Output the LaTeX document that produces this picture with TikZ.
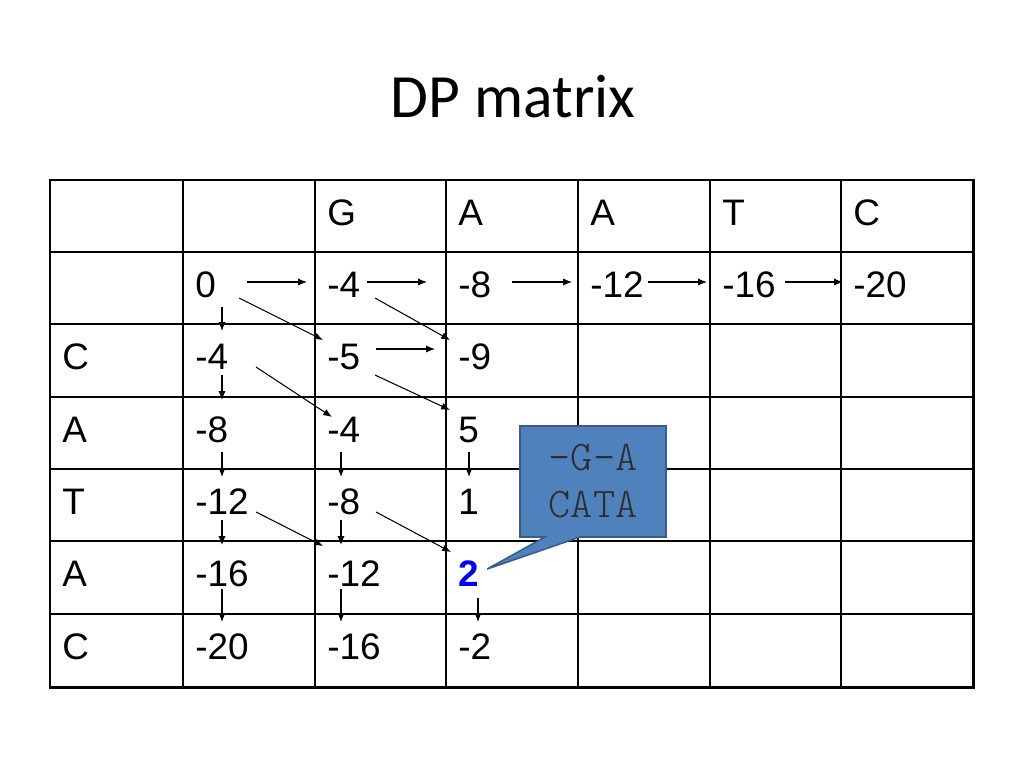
\documentclass[tikz,border=0pt]{standalone}
\usepackage{fontspec}
\setmainfont{Liberation Sans}
\newfontfamily\titlefont{Carlito}
\newfontfamily\notefont{lmmonolt10-regular.otf}
\usetikzlibrary{arrows.meta}
\definecolor{noteblue}{RGB}{79,129,189}
\definecolor{noteedge}{RGB}{56,93,138}
\definecolor{notetext}{RGB}{45,45,45}
\tikzset{cell/.style={anchor=west,inner sep=0pt,font=\fontsize{21}{25}\selectfont}}
\tikzset{link/.style={-{Latex[length=5pt,width=4pt]},line width=0.6pt}}
\tikzset{rule/.style={line width=0.85pt}}

\begin{document}
\begin{tikzpicture}[x=0.02cm,y=-0.02cm]
    \useasboundingbox (0,0) rectangle (1024,768);
    \node[font=\titlefont\fontsize{35}{42}\selectfont] (title) at (513,97) {DP matrix};
    % table
    \foreach \x in {183,315,446,578,710,841} \draw[rule] (\x,180) -- (\x,687);
    \foreach \y in {252,324,397,469,541,614} \draw[rule] (50,\y) -- (973,\y);
    \draw[line width=1.7pt] (50,180) rectangle (973,687);
    \foreach \t/\x/\n in {G/327/r0c2,A/458/r0c3,A/590/r0c4,T/722/r0c5,C/853/r0c6}
      \node[cell] (\n) at (\x,213) {\t};
    \foreach \t/\y/\n in {C/357/r2c0,A/430/r3c0,T/502/r4c0,A/574/r5c0,C/647/r6c0}
      \node[cell] (\n) at (62,\y) {\t};
    \node[cell] (r1c1) at (195,285) {0};
    \node[cell] (r1c2) at (327,285) {-4};
    \node[cell] (r1c3) at (458,285) {-8};
    \node[cell] (r1c4) at (590,285) {-12};
    \node[cell] (r1c5) at (722,285) {-16};
    \node[cell] (r1c6) at (853,285) {-20};
    \node[cell] (r2c1) at (195,357) {-4};
    \node[cell] (r2c2) at (327,357) {-5};
    \node[cell] (r2c3) at (458,357) {-9};
    \node[cell] (r3c1) at (195,430) {-8};
    \node[cell] (r3c2) at (327,430) {-4};
    \node[cell] (r3c3) at (458,430) {5};
    \node[cell] (r4c1) at (195,502) {-12};
    \node[cell] (r4c2) at (327,502) {-8};
    \node[cell] (r4c3) at (458,502) {1};
    \node[cell] (r5c1) at (195,574) {-16};
    \node[cell] (r5c2) at (327,574) {-12};
    \node[cell,text=blue,font=\fontsize{21}{25}\selectfont\bfseries] (r5c3) at (458,574) {2};
    \node[cell] (r6c1) at (195,647) {-20};
    \node[cell] (r6c2) at (327,647) {-16};
    \node[cell] (r6c3) at (458,647) {-2};
    % first row
    \draw[link] ([shift={(52,-3)}]r1c1.west) -- ([shift={(-20,-3)}]r1c2.west);
    \draw[link] ([shift={(40,-3)}]r1c2.west) -- ([shift={(-31,-3)}]r1c3.west);
    \draw[link] ([shift={(54,-3)}]r1c3.west) -- ([shift={(-18,-3)}]r1c4.west);
    \draw[link] ([shift={(58,-3)}]r1c4.west) -- ([shift={(-15,-3)}]r1c5.west);
    \draw[link] ([shift={(63,-3)}]r1c5.west) -- ([shift={(-10,-3)}]r1c6.west);
    % diagonals
    \draw[link] ([shift={(44,13)}]r1c1.west) -- ([shift={(-4,-17)}]r2c2.west);
    \draw[link] ([shift={(48,13)}]r1c2.west) -- ([shift={(-8,-17)}]r2c3.west);
    \draw[link] ([shift={(49,-8)}]r2c2.west) -- ([shift={(-23,-8)}]r2c3.west);
    \draw[link] ([shift={(61,10)}]r2c1.west) -- ([shift={(5,-13)}]r3c2.west);
    \draw[link] ([shift={(48,18)}]r2c2.west) -- ([shift={(-8,-20)}]r3c3.west);
    \draw[link] ([shift={(61,10)}]r4c1.west) -- ([shift={(-4,-28)}]r5c2.west);
    \draw[link] ([shift={(49,10)}]r4c2.west) -- ([shift={(-7,-22)}]r5c3.west);
    % columns
    \draw[link] ([shift={(27,22)}]r1c1.west) -- ([shift={(27,-26)}]r2c1.west);
    \draw[link] ([shift={(27,18)}]r2c1.west) -- ([shift={(27,-30)}]r3c1.west);
    \draw[link] ([shift={(27,22)}]r3c1.west) -- ([shift={(27,-25)}]r4c1.west);
    \draw[link] ([shift={(14,22)}]r3c2.west) -- ([shift={(14,-25)}]r4c2.west);
    \draw[link] ([shift={(11,22)}]r3c3.west) -- ([shift={(11,-25)}]r4c3.west);
    \draw[link] ([shift={(27,18)}]r4c1.west) -- ([shift={(27,-29)}]r5c1.west);
    \draw[link] ([shift={(14,18)}]r4c2.west) -- ([shift={(14,-29)}]r5c2.west);
    \draw[link] ([shift={(27,15)}]r5c1.west) -- ([shift={(27,-25)}]r6c1.west);
    \draw[link] ([shift={(14,15)}]r5c2.west) -- ([shift={(14,-25)}]r6c2.west);
    \draw[link] ([shift={(20,24)}]r5c3.west) -- ([shift={(20,-25)}]r6c3.west);
    % callout
    \coordinate (tip) at ([shift={(8,-5)}]r5c3.east);
    \draw[noteedge,fill=noteblue,line width=0.9pt] (520,426) -- (666,426) -- (666,537)
      -- (580,537) -- (tip) -- (545,537) -- (520,537) -- cycle;
    \node[align=center,text=notetext,font=\notefont\fontsize{24}{27}\selectfont] (note) at (593,481) {-G-A\\CATA};
\end{tikzpicture}
\end{document}
